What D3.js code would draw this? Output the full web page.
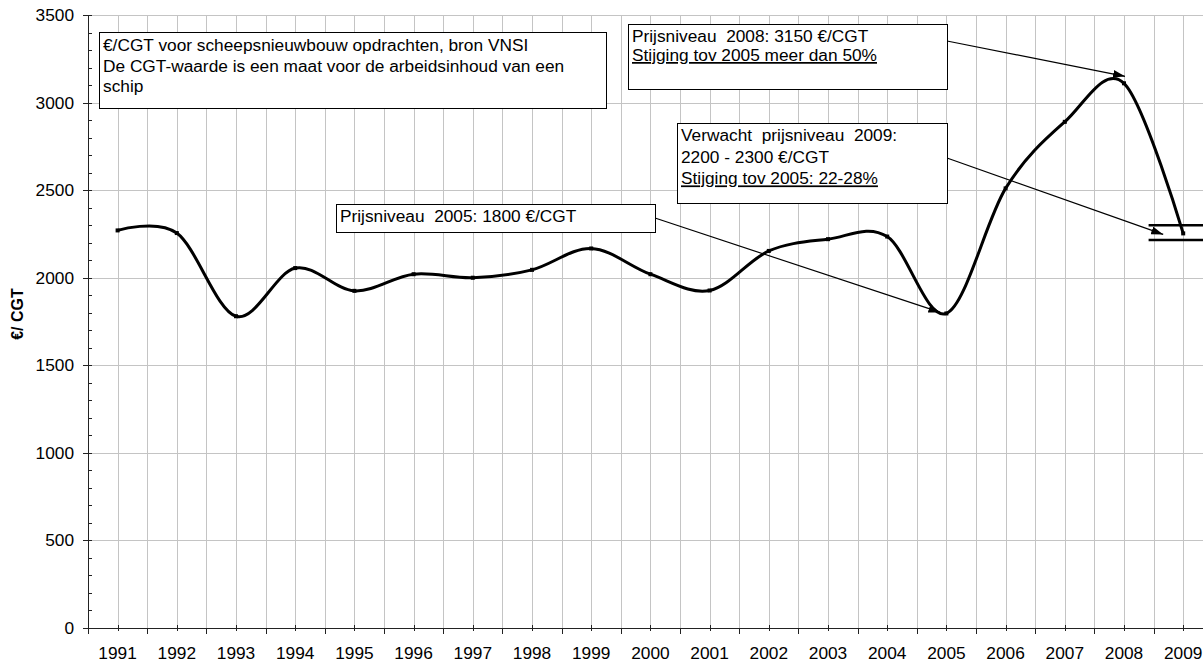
<!DOCTYPE html>
<html>
<head>
<meta charset="utf-8">
<script src="https://cdn.jsdelivr.net/npm/d3@7.9.0/dist/d3.min.js"></script>
<style>
  body { margin: 0; background: #fff; }
  svg { display: block; font-family: "Liberation Sans", Arial, sans-serif; }
</style>
</head>
<body>
<svg id="chart" width="1203" height="668"></svg>
<script>
const years = ["1991", "1992", "1993", "1994", "1995", "1996", "1997", "1998", "1999", "2000",
  "2001", "2002", "2003", "2004", "2005", "2006", "2007", "2008", "2009"];
const prices = [2270, 2255, 1780, 2055, 1925, 2020, 2000, 2045, 2167, 2020,
  1927, 2153, 2220, 2235, 1796, 2510, 2890, 3110, 2253];
const yMajor = [0, 500, 1000, 1500, 2000, 2500, 3000, 3500];
const yMinor = d3.range(0, 3501, 100);
const range2009 = [2215, 2300];

const infoLines = ["€/CGT voor scheepsnieuwbouw opdrachten, bron VNSI",
  "De CGT-waarde is een maat voor de arbeidsinhoud van een", "schip"];
const note2005 = ["Prijsniveau  2005: 1800 €/CGT"];
const note2008 = ["Prijsniveau  2008: 3150 €/CGT", "Stijging tov 2005 meer dan 50%"];
const note2009 = ["Verwacht  prijsniveau  2009:", "2200 - 2300 €/CGT", "Stijging tov 2005: 22-28%"];

const svg = d3.select("#chart");
const plotLeft = 88, plotTop = 15, plotBottom = 628, bandW = 59.2;
const fontSize = 17.3;

const x = d3.scaleBand().domain(years).range([plotLeft, plotLeft + years.length * bandW]).padding(0);
const xc = d => x(d) + x.bandwidth() / 2;
const y = d3.scaleLinear().domain([0, 3500]).range([plotBottom, plotTop]);

// grid
const grid = svg.append("g").attr("stroke", "#c4c4c4").attr("stroke-width", 1);
const vLines = [];
years.forEach((d, i) => {
  if (i > 0) vLines.push(x(d));
  vLines.push(xc(d));
});
grid.selectAll(".v").data(vLines).join("line")
  .attr("x1", d => Math.round(d) + 0.5).attr("x2", d => Math.round(d) + 0.5)
  .attr("y1", plotTop).attr("y2", plotBottom);
grid.selectAll(".h").data(yMajor.filter(d => d > 0)).join("line")
  .attr("x1", plotLeft).attr("x2", 1203)
  .attr("y1", d => Math.round(y(d)) + 0.5).attr("y2", d => Math.round(y(d)) + 0.5);

// y axis
const yAxis = svg.append("g").attr("stroke", "#222").attr("stroke-width", 1);
yAxis.append("line").attr("x1", plotLeft + 0.5).attr("x2", plotLeft + 0.5).attr("y1", plotTop).attr("y2", plotBottom);
yAxis.selectAll(".mi").data(yMinor).join("line")
  .attr("x1", plotLeft).attr("x2", plotLeft + 4)
  .attr("y1", d => Math.round(y(d)) + 0.5).attr("y2", d => Math.round(y(d)) + 0.5);
yAxis.selectAll(".ma").data(yMajor).join("line")
  .attr("x1", plotLeft - 5).attr("x2", plotLeft + 4)
  .attr("y1", d => Math.round(y(d)) + 0.5).attr("y2", d => Math.round(y(d)) + 0.5);
svg.append("g").selectAll("text").data(yMajor).join("text")
  .attr("x", 74).attr("y", d => y(d)).attr("dy", "0.35em")
  .attr("text-anchor", "end").attr("font-size", fontSize).attr("fill", "#000")
  .text(d => d);

svg.append("text")
  .attr("transform", `translate(23, 314) rotate(-90)`)
  .attr("text-anchor", "middle").attr("font-size", 16).attr("font-weight", "bold")
  .text("€/ CGT");

// x axis
const xAxis = svg.append("g").attr("stroke", "#222").attr("stroke-width", 1);
xAxis.append("line").attr("x1", plotLeft).attr("x2", 1203).attr("y1", plotBottom + 0.5).attr("y2", plotBottom + 0.5);
xAxis.selectAll(".ma").data(years).join("line")
  .attr("x1", d => Math.round(x(d)) + 0.5).attr("x2", d => Math.round(x(d)) + 0.5)
  .attr("y1", plotBottom).attr("y2", plotBottom + 6);
xAxis.selectAll(".mi").data(years).join("line")
  .attr("x1", d => Math.round(xc(d)) + 0.5).attr("x2", d => Math.round(xc(d)) + 0.5)
  .attr("y1", plotBottom - 3).attr("y2", plotBottom + 3);
svg.append("g").selectAll("text").data(years).join("text")
  .attr("x", d => xc(d)).attr("y", 659)
  .attr("text-anchor", "middle").attr("font-size", fontSize)
  .text(d => d);

// price line
const line = d3.line()
  .x((d, i) => xc(years[i]))
  .y(d => y(d))
  .curve(d3.curveCardinal.tension(0));
svg.append("path").datum(prices)
  .attr("d", line).attr("fill", "none").attr("stroke", "#000").attr("stroke-width", 3);
svg.append("g").selectAll("rect").data(prices).join("rect")
  .attr("x", (d, i) => xc(years[i]) - 2).attr("y", d => y(d) - 2)
  .attr("width", 4).attr("height", 4).attr("fill", "#000");

// 2009 range lines
svg.append("g").selectAll("line").data(range2009).join("line")
  .attr("x1", x("2009") - 5).attr("x2", 1203)
  .attr("y1", d => y(d)).attr("y2", d => y(d))
  .attr("stroke", "#000").attr("stroke-width", 2.5);

// arrow marker
svg.append("defs").append("marker")
  .attr("id", "arrow").attr("markerUnits", "userSpaceOnUse")
  .attr("viewBox", "0 0 12 8").attr("refX", 12).attr("refY", 4)
  .attr("markerWidth", 12).attr("markerHeight", 8).attr("orient", "auto")
  .append("path").attr("d", "M0,0 L12,4 L0,8 Z").attr("fill", "#000");

function note(box, lines, lineGap, firstBase, underline) {
  const g = svg.append("g");
  g.append("rect").attr("x", box[0] + 0.5).attr("y", box[1] + 0.5)
    .attr("width", box[2]).attr("height", box[3])
    .attr("fill", "#fff").attr("stroke", "#000").attr("stroke-width", 1);
  g.selectAll("text").data(lines).join("text")
    .attr("x", box[0] + 4).attr("y", (d, i) => box[1] + firstBase + i * lineGap)
    .attr("font-size", fontSize).attr("fill", "#000")
    .style("white-space", "pre")
    .style("text-decoration", (d, i) => i === underline ? "underline" : null)
    .text(d => d);
}

function arrow(x1, y1, x2, y2) {
  svg.append("line").attr("x1", x1).attr("y1", y1).attr("x2", x2).attr("y2", y2)
    .attr("stroke", "#000").attr("stroke-width", 1.2).attr("marker-end", "url(#arrow)");
}

arrow(655, 218, xc("2005") - 6, y(1796) - 1);
arrow(947, 41, xc("2008") + 1, y(3150));
arrow(947, 158, xc("2009") - 20, y(2253) + 1);

note([99, 32, 507, 76], infoLines, 20.5, 19, -1);
note([336, 204, 319, 28], note2005, 0, 18, -1);
note([628, 24, 319, 65], note2008, 19, 18, 1);
note([677, 123, 270, 80], note2009, 21.7, 18, 2);
</script>
</body>
</html>
